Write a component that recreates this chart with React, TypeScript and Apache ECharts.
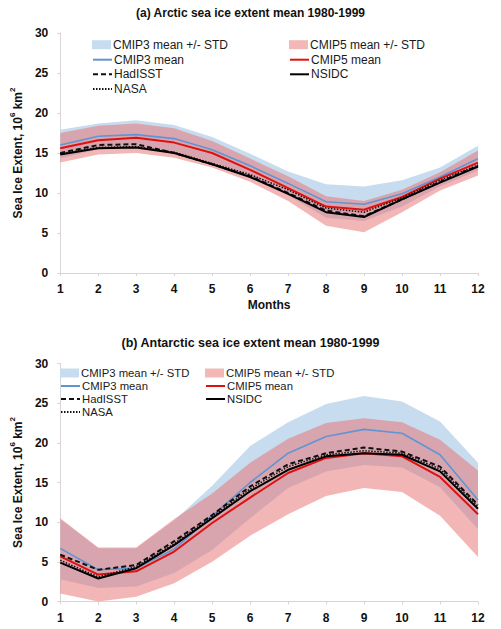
import React, { useEffect, useRef } from "react";
import * as echarts from "echarts";

const months = ["1", "2", "3", "4", "5", "6", "7", "8", "9", "10", "11", "12"];
const yTicks = [0, 5, 10, 15, 20, 25, 30];

// (a) Arctic
const arcCmip3Mean = [16.0, 17.1, 17.3, 16.8, 15.4, 13.4, 11.2, 8.9, 8.6, 9.9, 12.0, 14.3];
const arcCmip5Mean = [15.6, 16.6, 16.9, 16.3, 15.0, 12.9, 10.6, 8.3, 7.9, 9.5, 11.8, 13.8];
const arcHadISST = [15.0, 16.0, 16.1, 15.0, 13.6, 12.1, 10.0, 7.8, 7.1, 9.2, 11.4, 13.4];
const arcNSIDC = [14.8, 15.6, 15.7, 15.0, 13.6, 12.0, 9.9, 7.6, 7.0, 9.2, 11.3, 13.3];
const arcNASA = [14.9, 15.7, 15.8, 15.1, 13.7, 12.3, 10.4, 8.1, 7.6, 9.4, 11.6, 13.5];
const arcCmip3Upper = [17.9, 18.7, 19.1, 18.5, 17.0, 14.9, 12.7, 11.1, 10.8, 11.6, 13.2, 15.9];
const arcCmip3Lower = [14.3, 15.5, 15.6, 15.1, 13.8, 11.9, 9.7, 6.9, 6.5, 8.3, 10.8, 12.8];
const arcCmip5Upper = [17.5, 18.4, 18.7, 18.1, 16.5, 14.3, 12.1, 9.6, 9.0, 10.4, 12.6, 15.3];
const arcCmip5Lower = [13.8, 14.8, 15.0, 14.4, 13.2, 11.4, 9.0, 5.9, 5.1, 7.6, 10.3, 12.2];

// (b) Antarctic
const antCmip3Mean = [6.7, 4.0, 4.2, 6.6, 10.8, 15.0, 18.7, 20.8, 21.7, 21.2, 18.5, 12.8];
const antCmip5Mean = [5.7, 3.4, 3.8, 6.3, 9.9, 13.1, 16.2, 18.1, 18.7, 18.3, 15.7, 11.0];
const antHadISST = [5.9, 4.0, 4.6, 7.6, 10.9, 14.5, 17.3, 18.7, 19.4, 18.9, 17.0, 12.2];
const antNSIDC = [4.9, 2.9, 4.2, 7.1, 10.5, 13.9, 16.6, 18.3, 18.7, 18.5, 16.4, 11.7];
const antNASA = [5.2, 3.1, 4.4, 7.3, 10.7, 14.2, 17.0, 18.5, 19.0, 18.7, 16.7, 12.0];
const antCmip3Upper = [10.4, 6.7, 6.7, 10.2, 14.6, 19.6, 22.6, 24.9, 25.9, 25.2, 22.7, 17.5];
const antCmip3Lower = [2.8, 1.7, 1.9, 3.6, 6.5, 10.5, 14.3, 16.4, 17.2, 16.9, 14.4, 9.1];
const antCmip5Upper = [10.5, 6.8, 6.8, 10.4, 13.6, 17.5, 20.5, 22.5, 23.1, 22.6, 20.4, 16.5];
const antCmip5Lower = [1.0, 0.0, 0.6, 2.3, 5.0, 8.3, 11.0, 13.3, 14.3, 13.8, 10.8, 5.6];

const FONT = "'Liberation Sans', Arial, sans-serif";
const BLUE_BAND = "#c8dcef";
const PINK_BAND = "rgba(232,110,110,0.5)";
const BLUE_LINE = "#5f95d3";
const RED_LINE = "#e01010";
const AXIS_COLOR = "#d6d6d6";

const N_BAND3 = "CMIP3 mean +/- STD";
const N_BAND5 = "CMIP5 mean +/- STD";
const N_M3 = "CMIP3 mean";
const N_M5 = "CMIP5 mean";
const N_HAD = "HadISST";
const N_NSIDC = "NSIDC";
const N_NASA = "NASA";

function diff(up: number[], lo: number[]) {
  return up.map((u, i) => +(u - lo[i]).toFixed(3));
}

function bandSeries(idx: number, key: string, name: string, lower: number[], upper: number[], fill: string, z: number) {
  return [
    {
      type: "line",
      name: key + "-lower-" + idx,
      xAxisIndex: idx,
      yAxisIndex: idx,
      stack: key + idx,
      data: lower,
      symbol: "none",
      lineStyle: { width: 0, color: fill },
      silent: true,
      z,
    },
    {
      type: "line",
      name,
      xAxisIndex: idx,
      yAxisIndex: idx,
      stack: key + idx,
      data: diff(upper, lower),
      symbol: "none",
      color: fill,
      lineStyle: { width: 0, color: fill },
      areaStyle: { color: fill, opacity: 1 },
      silent: true,
      z,
    },
  ];
}

function lineSeries(idx: number, name: string, data: number[], color: string, width: number, type: any, z: number) {
  return {
    type: "line",
    name,
    xAxisIndex: idx,
    yAxisIndex: idx,
    data,
    symbol: "none",
    color,
    lineStyle: { color, width, type },
    silent: true,
    z,
  };
}

function chartSeries(idx: number, d: any) {
  return [
    ...bandSeries(idx, "c3", N_BAND3, d.c3lo, d.c3up, BLUE_BAND, 1),
    ...bandSeries(idx, "c5", N_BAND5, d.c5lo, d.c5up, PINK_BAND, 2),
    lineSeries(idx, N_M3, d.m3, BLUE_LINE, 1.6, "solid", 3),
    lineSeries(idx, N_M5, d.m5, RED_LINE, 2, "solid", 4),
    lineSeries(idx, N_NASA, d.nasa, "#111", 1.5, [1.5, 1.5], 5),
    lineSeries(idx, N_HAD, d.had, "#111", 2, [5, 3], 6),
    lineSeries(idx, N_NSIDC, d.nsidc, "#000", 2, "solid", 7),
  ];
}

function legendItem(name: string, left: number, centerY: number, isBand: boolean, fill: string | undefined, fs: number) {
  const item: any = { name };
  if (isBand) {
    item.icon = "rect";
    item.itemStyle = { color: fill, opacity: 1, borderWidth: 0 };
  } else {
    item.itemStyle = { opacity: 0, borderWidth: 0 };
  }
  return {
    data: [item],
    left,
    top: centerY - 6,
    padding: 0,
    itemWidth: 19,
    itemHeight: isBand ? 9 : 10,
    itemGap: 0,
    selectedMode: false,
    textStyle: { fontFamily: FONT, fontSize: fs, lineHeight: 12, color: "#1a1a1a", padding: [0, 0, 0, -3] },
  };
}

function chartLegends(col1: number, col2: number, rows: number[], fs: number) {
  return [
    legendItem(N_BAND3, col1, rows[0], true, BLUE_BAND, fs),
    legendItem(N_BAND5, col2, rows[0], true, "#f4b7b7", fs),
    legendItem(N_M3, col1, rows[1], false, undefined, fs),
    legendItem(N_M5, col2, rows[1], false, undefined, fs),
    legendItem(N_HAD, col1, rows[2], false, undefined, fs),
    legendItem(N_NSIDC, col2, rows[2], false, undefined, fs),
    legendItem(N_NASA, col1, rows[3], false, undefined, fs),
  ];
}

const yName = "{b|Sea Ice Extent, 10}{s|6}{b| km}{s|2}";

function yAxis(idx: number) {
  return {
    type: "value",
    gridIndex: idx,
    min: yTicks[0],
    max: yTicks[yTicks.length - 1],
    interval: 5,
    splitLine: { show: false },
    axisLine: { show: true, lineStyle: { color: AXIS_COLOR, width: 1 } },
    axisTick: { show: true, length: 3, lineStyle: { color: AXIS_COLOR } },
    axisLabel: { fontFamily: FONT, fontSize: 12, fontWeight: "bold", color: "#111", margin: 12 },
    name: yName,
    nameLocation: "middle",
    nameRotate: 90,
    nameGap: 28,
    nameTextStyle: {
      fontFamily: FONT,
      rich: {
        b: { fontFamily: FONT, fontSize: 12, fontWeight: "bold", color: "#111", lineHeight: 16, verticalAlign: "bottom" },
        s: { fontFamily: FONT, fontSize: 8, fontWeight: "bold", color: "#111", lineHeight: 16, verticalAlign: "top" },
      },
    },
  };
}

function xAxis(idx: number, withName: boolean) {
  return {
    type: "category",
    gridIndex: idx,
    data: months,
    boundaryGap: false,
    axisLine: { show: true, onZero: false, lineStyle: { color: AXIS_COLOR, width: 1 } },
    axisTick: { show: true, length: 3, lineStyle: { color: AXIS_COLOR } },
    axisLabel: { fontFamily: FONT, fontSize: 12, fontWeight: "bold", color: "#111", margin: 10, interval: 0 },
    splitLine: { show: false },
    name: withName ? "Months" : "",
    nameLocation: "middle",
    nameGap: 26,
    nameTextStyle: { fontFamily: FONT, fontSize: 12, fontWeight: "bold", color: "#111" },
  };
}

export default function App() {
  const ref = useRef<HTMLDivElement>(null);
  useEffect(() => {
    if (!ref.current) return;
    const chart = echarts.init(ref.current, undefined, { renderer: "svg" });
    const arctic = {
      m3: arcCmip3Mean, m5: arcCmip5Mean, had: arcHadISST, nsidc: arcNSIDC, nasa: arcNASA,
      c3up: arcCmip3Upper, c3lo: arcCmip3Lower, c5up: arcCmip5Upper, c5lo: arcCmip5Lower,
    };
    const antarctic = {
      m3: antCmip3Mean, m5: antCmip5Mean, had: antHadISST, nsidc: antNSIDC, nasa: antNASA,
      c3up: antCmip3Upper, c3lo: antCmip3Lower, c5up: antCmip5Upper, c5lo: antCmip5Lower,
    };
    chart.setOption({
      animation: false,
      backgroundColor: "#ffffff",
      title: [
        {
          text: "(a) Arctic sea ice extent mean 1980-1999",
          left: "center",
          top: 7,
          padding: 0,
          textStyle: { fontFamily: FONT, fontSize: 12, fontWeight: "bold", color: "#111" },
        },
        {
          text: "(b) Antarctic sea ice extent mean 1980-1999",
          left: "center",
          top: 336,
          padding: 0,
          textStyle: { fontFamily: FONT, fontSize: 12.5, fontWeight: "bold", color: "#111" },
        },
      ],
      legend: [
        ...chartLegends(92, 289, [44.7, 59.7, 74.3, 89], 12),
        ...chartLegends(60, 205, [373, 386, 399, 412], 11.3),
      ],
      grid: [
        { left: 51.5, top: 33, width: 426.5, height: 240 },
        { left: 51.5, top: 363.5, width: 426.5, height: 238 },
      ],
      xAxis: [xAxis(0, true), xAxis(1, false)],
      yAxis: [yAxis(0), yAxis(1)],
      series: [...chartSeries(0, arctic), ...chartSeries(1, antarctic)],
    });
    return () => chart.dispose();
  }, []);
  return (
    <div
      ref={ref}
      style={{ position: "absolute", left: 0, top: 0, width: 501, height: 629, background: "#fff" }}
    />
  );
}
